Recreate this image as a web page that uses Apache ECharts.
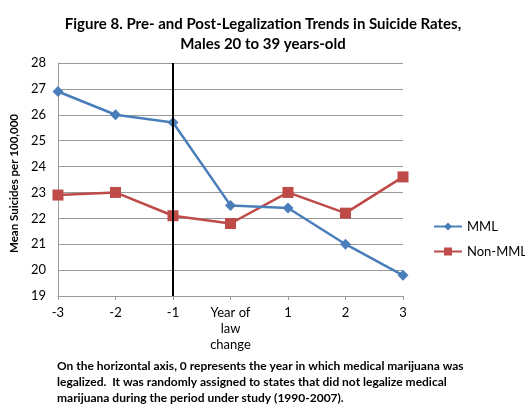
<!DOCTYPE html>
<html><head><meta charset="utf-8">
<script src="https://cdn.jsdelivr.net/npm/echarts@6/dist/echarts.min.js"></script>
<style>html,body{margin:0;padding:0;background:#fff}#c{width:525px;height:415px}</style>
</head><body><div id="c"></div>
<script>
const categories = ['-3', '-2', '-1', 'Year of\nlaw\nchange', '1', '2', '3'];
const mmlValues = [26.9, 26.0, 25.7, 22.5, 22.4, 21.0, 19.8];
const nonMmlValues = [22.9, 23.0, 22.1, 21.8, 23.0, 22.2, 23.6];
const seriesNames = ['MML', 'Non-MML'];
const legalizationMarker = '-1';
const titleText = 'Figure 8. Pre- and Post-Legalization Trends in Suicide Rates,\nMales 20 to 39 years-old';
const yAxisTitle = 'Mean Suicides per 100,000';
const footnote = 'On the horizontal axis, 0 represents the year in which medical marijuana was\nlegalized.  It was randomly assigned to states that did not legalize medical\nmarijuana during the period under study (1990-2007).';

const FONT = 'Lato';
const chart = echarts.init(document.getElementById('c'));
chart.setOption({
  animation: false,
  textStyle: {fontFamily: FONT},
  title: {
    text: titleText, left: 258, textAlign: 'center', top: 9,
    textStyle: {fontFamily: FONT, fontWeight: 'bold', fontSize: 15, lineHeight: 20, color: '#000'}
  },
  grid: {left: 54, right: 122, top: 63, bottom: 119},
  legend: {
    orient: 'vertical', left: 428, top: 215, itemWidth: 28, itemHeight: 10, itemGap: 12,
    textStyle: {fontFamily: FONT, fontSize: 13, color: '#000'},
    data: seriesNames
  },
  xAxis: {
    type: 'category', data: categories, boundaryGap: false,
    axisLine: {lineStyle: {color: '#999'}},
    axisTick: {show: true, length: 4, lineStyle: {color: '#999'}},
    axisLabel: {color: '#000', fontSize: 13, lineHeight: 16, margin: 9, fontFamily: FONT, interval: 0}
  },
  yAxis: {
    type: 'value', min: 19, max: 28, interval: 1,
    name: yAxisTitle, nameLocation: 'middle', nameGap: 33, nameRotate: 90,
    nameTextStyle: {fontFamily: FONT, fontWeight: 'bold', fontSize: 11.5, color: '#000', padding: [0, 8, 0, 0]},
    axisLine: {show: true, lineStyle: {color: '#999'}},
    axisTick: {show: false},
    splitLine: {lineStyle: {color: '#999'}},
    axisLabel: {color: '#000', fontSize: 13, margin: 12, fontFamily: FONT}
  },
  graphic: [{
    type: 'text', left: 57, top: 358,
    style: {text: footnote, font: 'bold 12px ' + FONT, lineHeight: 16, fill: '#000'}
  }],
  series: [
    {
      name: seriesNames[0], type: 'line', data: mmlValues,
      symbol: 'diamond', symbolSize: 11,
      itemStyle: {color: '#4a7ebb'}, lineStyle: {width: 2.5, color: '#4a7ebb'},
      z: 3,
      markLine: {
        silent: true, symbol: 'none', label: {show: false},
        lineStyle: {color: '#000', width: 2, type: 'solid'},
        data: [{xAxis: legalizationMarker}]
      }
    },
    {
      name: seriesNames[1], type: 'line', data: nonMmlValues,
      symbol: 'rect', symbolSize: 11,
      itemStyle: {color: '#be4b48'}, lineStyle: {width: 2.5, color: '#be4b48'},
      z: 2
    }
  ]
});
</script></body></html>
